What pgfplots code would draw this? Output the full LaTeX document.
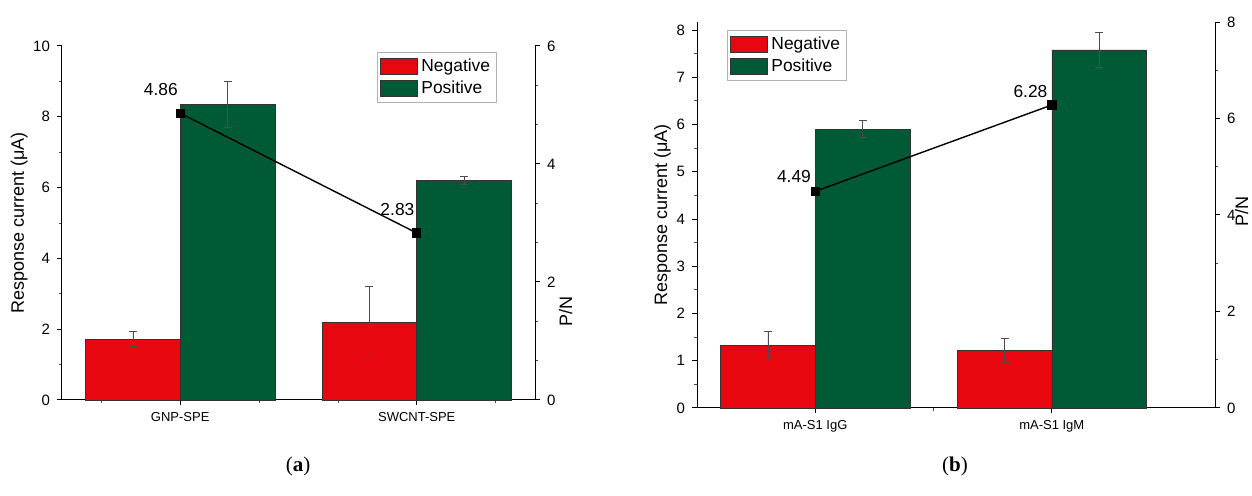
\documentclass[border=0pt]{standalone}
\usepackage{fontspec}
\setmainfont{Liberation Sans}
\newfontfamily\capfont{Liberation Serif}
\usepackage{pgfplots}
\pgfplotsset{compat=1.18}
\definecolor{negred}{HTML}{E8060F}
\definecolor{posgreen}{HTML}{005A35}
\pgfplotsset{
  base/.style={
    scale only axis, anchor=south west,
    font=\fontsize{7.5}{8.5}\selectfont,
    /pgf/number format/assume math mode=true,
    tick align=outside, major tick length=2.5pt, minor tick length=1.6pt,
    axis line style={line width=0.5pt, black},
    every tick/.style={line width=0.5pt, black},
    every minor tick/.style={line width=0.4pt, black!70},
    xticklabel style={font=\fontsize{6.5}{7}\selectfont},
    label style={font=\fontsize{9}{10}\selectfont},
    clip=false,
  },
  barleg/.style={
    legend style={draw=black!30, font=\fontsize{8.7}{10}\selectfont, inner sep=1.2pt,
      row sep=-1pt, cells={anchor=west}},
    legend image code/.code={\draw[draw=black!80, line width=0.3pt, ##1] (0pt,-4pt) rectangle (18.5pt,4pt);},
  },
  errs/.style={error bars/.cd, y dir=both, y explicit,
    error bar style={line width=0.4pt, draw=black!70},
    error mark options={rotate=90, mark size=2pt, line width=0.4pt, draw=black!70}},
}
\begin{document}
\begin{tikzpicture}
\useasboundingbox (0,0) rectangle (626pt,248pt);
% ---------- (a) bars ----------
\begin{axis}[base, barleg, at={(31pt,48pt)}, width=236.5pt, height=177pt,
  xmin=0.5, xmax=2.5, ymin=0, ymax=10,
  axis x line*=bottom, axis y line*=left,
  xtick={1,2}, xticklabels={GNP-SPE,SWCNT-SPE},
  minor xtick={0.6667,1.3333,1.6667,2.3333},
  ytick={0,2,4,6,8,10}, minor ytick={1,3,5,7,9},
  ylabel={Response current (μA)}, ylabel style={yshift=-4pt},
  legend style={at={(0.666,0.983)}, anchor=north west}]
\addplot[ybar, bar width=0.4, bar shift=0, fill=negred, draw=black!80, line width=0.3pt, errs]
  coordinates {(0.8,1.72) +- (0,0.21) (1.8,2.19) +- (0,1.03)};
\addlegendentry{Negative}
\addplot[ybar, bar width=0.4, bar shift=0, fill=posgreen, draw=black!80, line width=0.3pt, errs]
  coordinates {(1.2,8.36) +- (0,0.65) (2.2,6.21) +- (0,0.11)};
\addlegendentry{Positive}
\end{axis}
% ---------- (a) P/N ----------
\begin{axis}[base, at={(31pt,48pt)}, width=236.5pt, height=177pt,
  xmin=0.5, xmax=2.5, ymin=0, ymax=6,
  axis x line=none, axis y line*=right,
  ytick={0,2,4,6}, minor tick num=2,
  ylabel={P/N}, ylabel style={at={(ticklabel cs:0.25)}, yshift=5pt}]
\addplot[black, line width=0.7pt, mark=square*, mark size=2pt] coordinates {(1,4.86) (2,2.83)};
\node[anchor=south east, inner sep=0pt, font=\fontsize{8.7}{10}\selectfont, xshift=-1pt, yshift=8.5pt] at (axis cs:1,4.86) {4.86};
\node[anchor=south east, inner sep=0pt, font=\fontsize{8.7}{10}\selectfont, xshift=-1pt, yshift=8.5pt] at (axis cs:2,2.83) {2.83};
\end{axis}
% ---------- (b) bars ----------
\begin{axis}[base, barleg, at={(348.5pt,44pt)}, width=259pt, height=193pt,
  xmin=0.5, xmax=2.69, ymin=0, ymax=8.17,
  axis x line*=bottom, axis y line*=left,
  xtick={1,2}, xticklabels={mA-S1 IgG,mA-S1 IgM},
  minor xtick={1.5},
  ytick={0,1,...,8}, minor tick num=1,
  ylabel={Response current (μA)}, ylabel style={yshift=-4pt},
  legend style={at={(0.058,0.979)}, anchor=north west}]
\addplot[ybar, bar width=0.4, bar shift=0, fill=negred, draw=black!80, line width=0.3pt, errs]
  coordinates {(0.8,1.33) +- (0,0.30) (1.8,1.22) +- (0,0.25)};
\addlegendentry{Negative}
\addplot[ybar, bar width=0.4, bar shift=0, fill=posgreen, draw=black!80, line width=0.3pt, errs]
  coordinates {(1.2,5.9) +- (0,0.18) (2.2,7.58) +- (0,0.37)};
\addlegendentry{Positive}
\end{axis}
% ---------- (b) P/N ----------
\begin{axis}[base, at={(348.5pt,44pt)}, width=259pt, height=193pt,
  xmin=0.5, xmax=2.69, ymin=0, ymax=8,
  axis x line=none, axis y line*=right,
  ytick={0,2,4,6,8}, minor tick num=1,
  ylabel={P/N}, ylabel style={at={(ticklabel cs:0.51)}, yshift=7pt}]
\addplot[black, line width=0.7pt, mark=square*, mark size=2pt] coordinates {(1,4.49) (2,6.28)};
\node[anchor=south east, inner sep=0pt, font=\fontsize{8.7}{10}\selectfont, xshift=-2pt, yshift=4pt] at (axis cs:1,4.49) {4.49};
\node[anchor=south east, inner sep=0pt, font=\fontsize{8.7}{10}\selectfont, xshift=-2pt, yshift=3.5pt] at (axis cs:2,6.28) {6.28};
\end{axis}
% ---------- captions ----------
\node[font=\capfont\fontsize{10.5}{12}\selectfont] at (149pt,15pt) {(\textbf{a})};
\node[font=\capfont\fontsize{10.5}{12}\selectfont] at (477.5pt,15pt) {(\textbf{b})};
\end{tikzpicture}
\end{document}
